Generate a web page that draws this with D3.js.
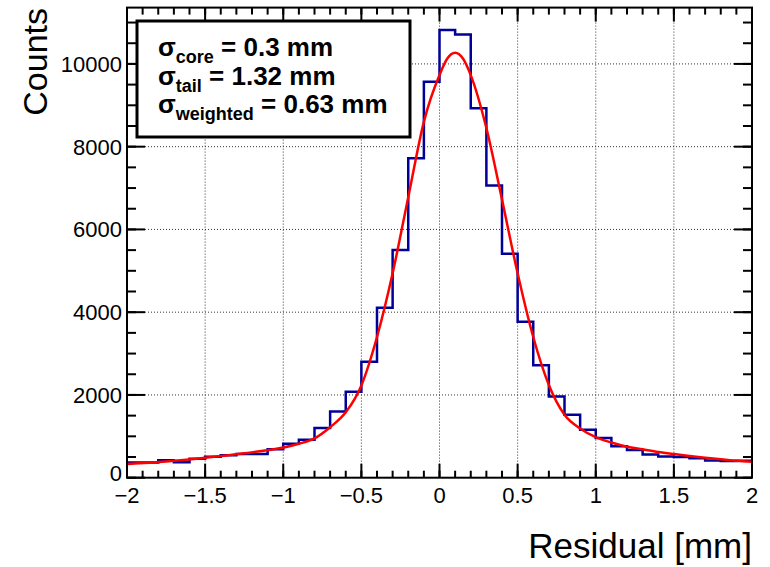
<!DOCTYPE html>
<html>
<head>
<meta charset="utf-8">
<script src="https://cdn.jsdelivr.net/npm/d3@7"></script>
<style>
  body { margin: 0; background: #fff; }
  text { font-family: "Liberation Sans", Arial, sans-serif; }
</style>
</head>
<body>
<div id="chart"></div>
<script>
// histogram: 40 bins of 0.1 mm from -2 to 2
var binLow = -2, binWidth = 0.1;
var counts = [365, 370, 420, 375, 460, 505, 540, 570, 575, 690,
              820, 920, 1200, 1600, 2080, 2800, 4110, 5500, 7720, 9570,
              10820, 10710, 8930, 7060, 5410, 3770, 2720, 1960, 1520, 1160,
              960, 760, 670, 560, 515, 500, 470, 415, 405, 410];

// fit curve
var fitX = [-2, -1.75, -1.5, -1.25, -1, -0.9, -0.8, -0.7, -0.6, -0.5, -0.4, -0.3, -0.2, -0.1,
            0, 0.05, 0.1, 0.15, 0.2, 0.3, 0.4, 0.5, 0.6, 0.7, 0.8, 0.9, 1.0, 1.1, 1.2,
            1.3, 1.4, 1.5, 1.6, 1.7, 1.8, 1.9, 2.0];
var fitY = [330, 390, 480, 590, 730, 820, 950, 1220, 1580, 2230, 3400, 4940, 6780, 8600,
            9730, 10130, 10270, 10130, 9730, 8450, 6720, 4940, 3400, 2240, 1520, 1190, 980, 850, 750,
            685, 620, 570, 525, 485, 445, 410, 385];

var xTicks = [-2, -1.5, -1, -0.5, 0, 0.5, 1, 1.5, 2];
var yTicks = [0, 2000, 4000, 6000, 8000, 10000];

var boxLines = [
    {sub: "core", val: " = 0.3 mm"},
    {sub: "tail", val: " = 1.32 mm"},
    {sub: "weighted", val: " = 0.63 mm"}
];

var svgWidth = 770, svgHeight = 567;
var margin = {top: 7.6, right: 18, bottom: 89.3, left: 127};
var chartWidth = svgWidth - margin.left - margin.right;
var chartHeight = svgHeight - margin.top - margin.bottom;

var svg = d3.select("#chart").append("svg")
    .attr("width", svgWidth)
    .attr("height", svgHeight);

var chart = svg.append("g").attr("transform", `translate(${margin.left},${margin.top})`);

var xScale = d3.scaleLinear().domain([-2, 2]).range([0, chartWidth]);
var yScale = d3.scaleLinear().domain([0, d3.max(counts) * 1.05]).range([chartHeight, 0]);

// grid
var grid = chart.append("g")
    .attr("stroke", "#333")
    .attr("stroke-width", 1)
    .attr("stroke-dasharray", "1,2");
grid.selectAll("line.gx")
    .data(xTicks.slice(1, -1))
    .enter().append("line")
    .attr("x1", d => xScale(d)).attr("x2", d => xScale(d))
    .attr("y1", 0).attr("y2", chartHeight);
grid.selectAll("line.gy")
    .data(yTicks.slice(1))
    .enter().append("line")
    .attr("x1", 0).attr("x2", chartWidth)
    .attr("y1", d => yScale(d)).attr("y2", d => yScale(d));

// histogram outline
var stepPts = [];
counts.forEach(function(c, i) {
    var lo = binLow + i * binWidth;
    stepPts.push([lo, c]);
    stepPts.push([lo + binWidth, c]);
});
var stepLine = d3.line()
    .x(d => xScale(d[0]))
    .y(d => yScale(d[1]));
chart.append("path")
    .attr("d", stepLine(stepPts))
    .attr("fill", "none")
    .attr("stroke", "#000099")
    .attr("stroke-width", 2.5);

// fit
var fitLine = d3.line()
    .x((d, i) => xScale(fitX[i]))
    .y(d => yScale(d))
    .curve(d3.curveMonotoneX);
chart.append("path")
    .attr("d", fitLine(fitY))
    .attr("fill", "none")
    .attr("stroke", "#ff0000")
    .attr("stroke-width", 2.5);

// axes (ROOT style ticks on all four sides)
var xMinor = d3.range(-2, 2.0001, 0.1);
var yMinor = d3.range(0, yScale.domain()[1], 500);

function drawTicks(g, data, pos, len, horiz, side) {
    g.selectAll(null).data(data).enter().append("line")
        .attr("x1", d => horiz ? pos(d) : side)
        .attr("x2", d => horiz ? pos(d) : side + len)
        .attr("y1", d => horiz ? side : pos(d))
        .attr("y2", d => horiz ? side + len : pos(d));
}
var ticks = chart.append("g").attr("stroke", "#000").attr("stroke-width", 2);
drawTicks(ticks, xMinor, xScale, -7, true, chartHeight);
drawTicks(ticks, xTicks, xScale, -14, true, chartHeight);
drawTicks(ticks, xMinor, xScale, 7, true, 0);
drawTicks(ticks, xTicks, xScale, 14, true, 0);
drawTicks(ticks, yMinor, yScale, 9, false, 0);
drawTicks(ticks, yTicks, yScale, 18, false, 0);
drawTicks(ticks, yMinor, yScale, -9, false, chartWidth);
drawTicks(ticks, yTicks, yScale, -18, false, chartWidth);

chart.append("rect")
    .attr("width", chartWidth)
    .attr("height", chartHeight)
    .attr("fill", "none")
    .attr("stroke", "#000")
    .attr("stroke-width", 2);

// tick labels
var fmt = d => (d < 0 ? "\u2212" + Math.abs(d) : String(d));
chart.selectAll("text.xl")
    .data(xTicks)
    .enter().append("text")
    .attr("x", d => xScale(d))
    .attr("y", chartHeight + 25)
    .attr("text-anchor", "middle")
    .style("font-size", "22px")
    .text(fmt);
// ROOT lifts the "0" label a little off the corner
chart.selectAll("text.yl")
    .data(yTicks)
    .enter().append("text")
    .attr("x", -5)
    .attr("y", d => yScale(d) + (d === 0 ? 3 : 8))
    .attr("text-anchor", "end")
    .style("font-size", "22px")
    .text(d => d);

// axis titles
svg.append("text")
    .attr("transform", "translate(47,8) rotate(-90)")
    .attr("text-anchor", "end")
    .style("font-size", "34px")
    .text("Counts");
svg.append("text")
    .attr("x", 752)
    .attr("y", 558)
    .attr("text-anchor", "end")
    .style("font-size", "35px")
    .text("Residual [mm]");

// info box
svg.append("rect")
    .attr("x", 137).attr("y", 21)
    .attr("width", 273).attr("height", 116)
    .attr("fill", "#fff")
    .attr("stroke", "#000")
    .attr("stroke-width", 3);

var label = svg.selectAll("text.box")
    .data(boxLines)
    .enter().append("text")
    .attr("x", 158)
    .attr("y", (d, i) => 56 + i * 28.5)
    .style("font-weight", "bold")
    .style("font-size", "26px");
label.append("tspan").text("\u03c3");
label.append("tspan")
    .attr("dy", 7)
    .style("font-size", "18px")
    .text(d => d.sub);
label.append("tspan")
    .attr("dy", -7)
    .text(d => d.val);
</script>
</body>
</html>
